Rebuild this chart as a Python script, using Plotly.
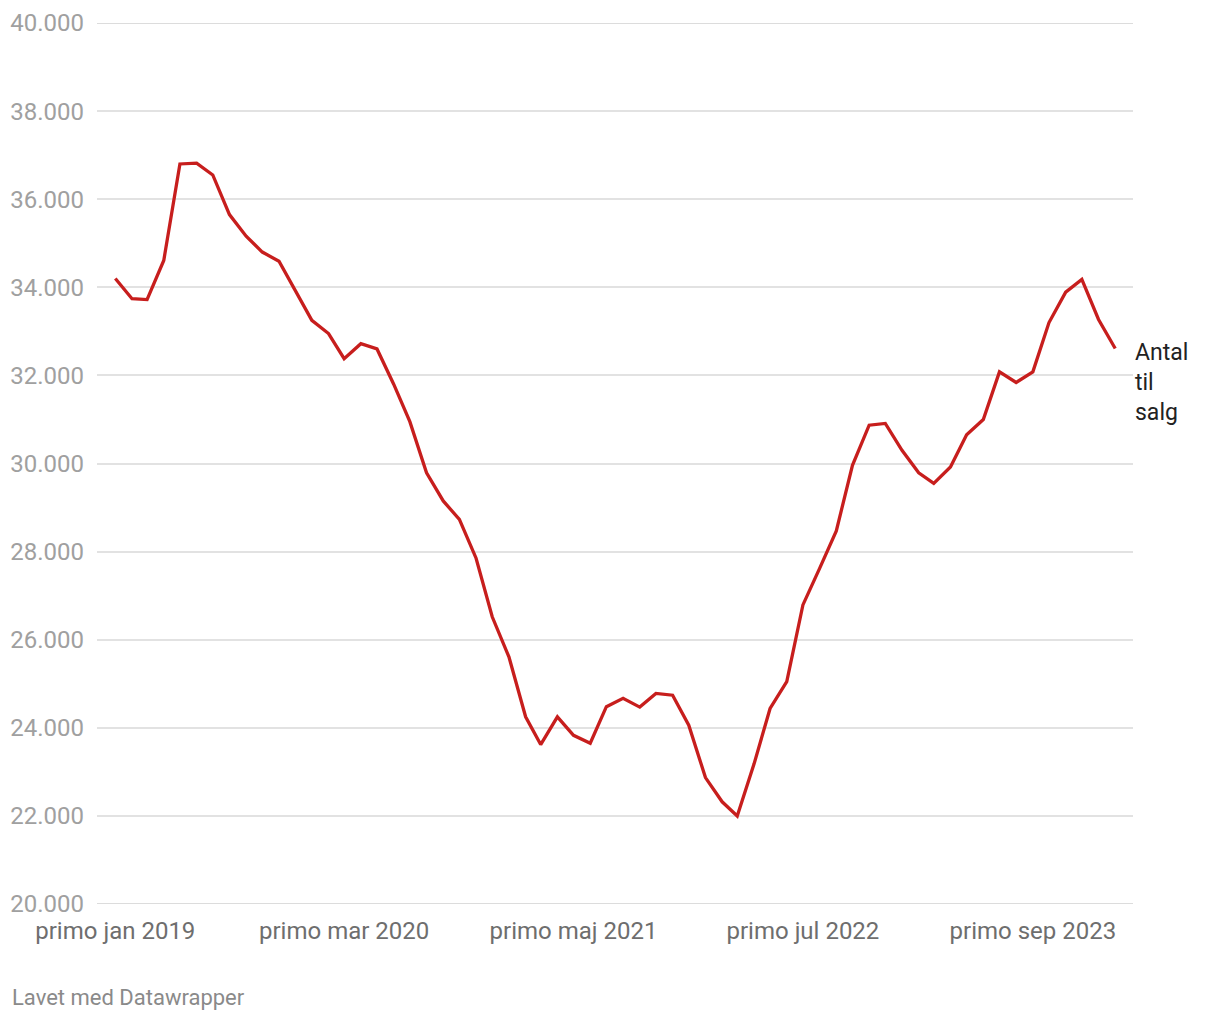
import plotly.graph_objects as go
import pandas as pd

# Monthly observations, primo jan 2019 .. primo feb 2024
start_month = "2019-01-01"
antal_til_salg = [
    34200, 33740, 33720, 34610, 36800, 36820, 36550, 35650, 35160, 34800,
    34590, 33930, 33250, 32950, 32380, 32720, 32600, 31800, 30950, 29790,
    29150, 28730, 27850, 26520, 25610, 24250, 23620, 24250, 23830, 23650,
    24480, 24670, 24470, 24780, 24740, 24060, 22870, 22320, 22000, 23170,
    24440, 25050, 26790, 27620, 28470, 29960, 30870, 30910, 30300, 29790,
    29550, 29920, 30650, 31000, 32080, 31840, 32080, 33200, 33890, 34180,
    33270, 32610,
]
tick_dates = ["2019-01-01", "2020-03-01", "2021-05-01", "2022-07-01", "2023-09-01"]
tick_labels = ["primo jan 2019", "primo mar 2020", "primo maj 2021",
               "primo jul 2022", "primo sep 2023"]
y_ticks = [20000, 22000, 24000, 26000, 28000, 30000, 32000, 34000, 36000, 38000, 40000]
series_name = "Antal<br>til<br>salg"

months = pd.date_range(start_month, periods=len(antal_til_salg), freq="MS")

fig = go.Figure(go.Scatter(
    x=months,
    y=antal_til_salg,
    mode="lines",
    line=dict(color="#c71e1d", width=3.3),
    hoverinfo="skip",
    showlegend=False,
))

# plotly skips gridlines sitting on the plot edge, so draw those two by hand
for edge in (y_ticks[0], y_ticks[-1]):
    fig.add_hline(y=edge, line=dict(color="#dcdcdc", width=2), layer="below")

fig.add_annotation(
    x=months[-1], y=antal_til_salg[-1],
    text=series_name, showarrow=False,
    xanchor="left", yanchor="top", align="left",
    xshift=18, yshift=12,
    font=dict(family="Roboto", size=23, color="#222222"),
)

fig.add_annotation(
    xref="paper", yref="paper", x=-0.084, y=-0.1056,
    text="Lavet med Datawrapper", showarrow=False,
    xanchor="left", yanchor="middle",
    font=dict(family="Roboto", size=22, color="#8a8a8a"),
)

# the page puts the figure 8px in from the top-left corner
fig.update_layout(
    width=1220, height=1020,
    margin=dict(l=89, r=95, t=15, b=124),
    paper_bgcolor="white", plot_bgcolor="white",
    separators=",.",
    font=dict(family="Roboto"),
    xaxis=dict(
        range=["2018-11-28", "2024-03-05"],
        tickvals=tick_dates, ticktext=tick_labels,
        showgrid=False, zeroline=False, showline=False,
        ticks="", ticklabelstandoff=10, automargin=False,
        tickfont=dict(size=24, color="#6e6e6e"),
    ),
    yaxis=dict(
        range=[y_ticks[0], y_ticks[-1]],
        tickvals=y_ticks, tickformat=",d",
        showgrid=True, gridcolor="#e2e2e2", gridwidth=1.5,
        zeroline=False, showline=False, ticks="",
        ticklabelstandoff=12, automargin=False,
        tickfont=dict(size=24, color="#a0a0a0"),
    ),
)

fig.write_html("out.html")
